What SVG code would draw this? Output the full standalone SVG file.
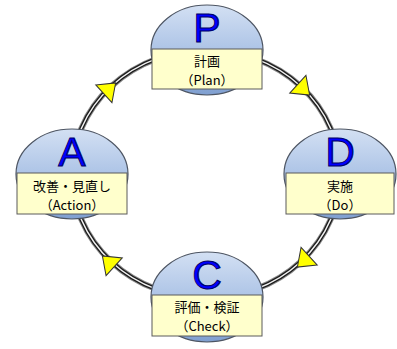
<svg xmlns="http://www.w3.org/2000/svg" width="397" height="349" viewBox="0 0 397 349">
<defs>
<linearGradient id="dome" x1="0" y1="0" x2="0" y2="1">
<stop offset="0" stop-color="#d3e0f3"/>
<stop offset="0.55" stop-color="#a9c1e5"/>
<stop offset="1" stop-color="#7f9fd0"/>
</linearGradient>
<polygon id="arr" points="-7,-12 9,0 -7,12"/>
</defs>
<style>
.dome{fill:url(#dome);stroke:#4d5563;stroke-width:1.2}
.box{fill:#ffffcc;stroke:#5a5a5a;stroke-width:1}
.let{font-family:"Liberation Sans",Arial,sans-serif;font-size:41px;fill:#0000ff;stroke:#000066;stroke-width:1;text-anchor:middle}
.lbl{font-family:"Noto Sans CJK JP","Liberation Sans",sans-serif;font-size:13px;fill:#000;text-anchor:middle}
.ring1{fill:none;stroke:#8a8a8a;stroke-width:6}
.ring2{fill:none;stroke:#1a1a1a;stroke-width:4}
.ring3{fill:none;stroke:#f0f0f0;stroke-width:1.4}
.ah{fill:#ffff00;stroke:#333;stroke-width:1;stroke-linejoin:miter}
</style>
<rect width="397" height="349" fill="#fff"/>
<g id="connectors">
<ellipse class="ring1" cx="206" cy="174" rx="134" ry="124"/>
<ellipse class="ring2" cx="206" cy="174" rx="134" ry="124"/>
<ellipse class="ring3" cx="206" cy="174" rx="134" ry="124"/>
<use href="#arr" class="ah" transform="translate(109,89) rotate(-42.5)"/>
<use href="#arr" class="ah" transform="translate(303,89) rotate(42.5)"/>
<use href="#arr" class="ah" transform="translate(304,261) rotate(137.5)"/>
<use href="#arr" class="ah" transform="translate(109,262) rotate(-137.5)"/>
</g>
<g id="nodeP">
<ellipse class="dome" cx="207" cy="50" rx="56" ry="45"/>
<text class="let" x="207" y="42">P</text>
<rect class="box" x="152" y="49" width="110" height="40"/>
<text class="lbl"><tspan x="207" y="65.5">計画</tspan><tspan x="207" y="84.5">（Plan）</tspan></text>
</g>
<g id="nodeD">
<ellipse class="dome" cx="340" cy="174" rx="56" ry="45"/>
<text class="let" x="340" y="166">D</text>
<rect class="box" x="286" y="173" width="108" height="41"/>
<text class="lbl"><tspan x="340" y="190.5">実施</tspan><tspan x="340" y="209.5">（Do）</tspan></text>
</g>
<g id="nodeC">
<ellipse class="dome" cx="207" cy="297" rx="56" ry="45"/>
<text class="let" x="207" y="289">C</text>
<rect class="box" x="152" y="295" width="110" height="41"/>
<text class="lbl"><tspan x="207" y="312">評価・検証</tspan><tspan x="207" y="331">（Check）</tspan></text>
</g>
<g id="nodeA">
<ellipse class="dome" cx="72" cy="174" rx="56" ry="45"/>
<text class="let" x="72" y="166">A</text>
<rect class="box" x="17" y="173" width="110" height="41"/>
<text class="lbl"><tspan x="72" y="190.5">改善・見直し</tspan><tspan x="72" y="209.5">（Action）</tspan></text>
</g>
</svg>
